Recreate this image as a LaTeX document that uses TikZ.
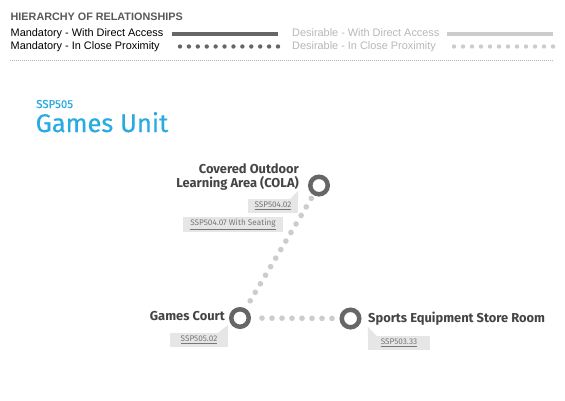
\documentclass[tikz,border=0pt]{standalone}
\usepackage{fontspec}
\usetikzlibrary{calc}
\setmainfont{Liberation Sans}
\newfontfamily\din{Fira Sans}
\newfontfamily\dinm[FakeBold=0.5]{Fira Sans}
\definecolor{cblue}{HTML}{29ABE2}
\definecolor{cdark}{HTML}{666666}
\definecolor{clight}{HTML}{CCCCCC}
\definecolor{ctext}{HTML}{444444}
\definecolor{cbox}{HTML}{E6E6E6}
\definecolor{clab}{HTML}{777777}
\tikzset{
  legtext/.style={anchor=base west,inner sep=0pt,font=\fontsize{10.9}{12}\selectfont},
  room/.style={circle,draw=cdark,line width=4.5pt,minimum size=17.5pt,inner sep=0pt},
  roomname/.style={inner sep=0pt,text=ctext,font=\din\bfseries\fontsize{12.9}{14.5}\selectfont},
  codebox/.style={fill=cbox,inner sep=0pt,text=clab,font=\din\fontsize{8.2}{9}\selectfont},
}
\begin{document}
\begin{tikzpicture}[x=1pt,y=-1pt]
\useasboundingbox[fill=white] (0,0) rectangle (565,400);
% legend
\node[legtext,text=black!65,font=\bfseries\fontsize{10.8}{12}\selectfont] (hd) at (10.5,20.7) {HIERARCHY OF RELATIONSHIPS};
\node[legtext] (m1) at (10.5,36.7) {Mandatory - With Direct Access};
\node[legtext] (m2) at (10.5,49) {Mandatory - In Close Proximity};
\node[legtext,text=black!28] (d1) at (292,36.7) {Desirable - With Direct Access};
\node[legtext,text=black!28] (d2) at (292,49) {Desirable - In Close Proximity};
\coordinate (l1a) at (172,34); \coordinate (l1b) at (278,34);
\coordinate (l2a) at (180,46.5); \coordinate (l2b) at (278,46.5);
\coordinate (l3a) at (447,34); \coordinate (l3b) at (553,34);
\coordinate (l4a) at (454,46.5); \coordinate (l4b) at (553,46.5);
\draw[cdark,line width=3.4pt] (l1a) -- (l1b);
\draw[clight,line width=3.4pt] (l3a) -- (l3b);
\foreach \i in {0,...,11} {
  \fill[cdark] ($(l2a)!\i/11!(l2b)$) circle (2.2pt);
  \fill[clight] ($(l4a)!\i/11!(l4b)$) circle (2.2pt);
}
\coordinate (ra) at (10,60); \coordinate (rb) at (553,60);
\draw[black!30,line width=0.6pt,dash pattern=on 0.6pt off 1.4pt] (ra) -- (rb);
% title
\node[anchor=base west,inner sep=0pt,text=cblue,font=\dinm\fontsize{11.5}{12}\selectfont] (code) at (36,108) {SSP505};
\node[anchor=base west,inner sep=0pt,text=cblue,font=\dinm\fontsize{25.5}{28}\selectfont] (title) at (35.5,132) {Games Unit};
% rooms
\node[room] (cola) at (319,185.5) {};
\node[room] (court) at (240,318) {};
\node[room] (sport) at (350.5,318.5) {};
\coordinate (p1) at ($(cola)!15pt!(court)$);
\coordinate (p2) at ($(court)!20pt!(cola)$);
\coordinate (q1) at ($(court)!22pt!(sport)$);
\coordinate (q2) at ($(sport)!18.5pt!(court)$);
\foreach \i in {0,...,12} \fill[clight] ($(p1)!\i/12!(p2)$) circle (2.8pt);
\foreach \i in {0,...,7} \fill[clight] ($(q1)!\i/7!(q2)$) circle (2.8pt);
\node[roomname,anchor=base east] (colan) at (299,173) {Covered Outdoor};
\node[roomname,anchor=base east] (colan2) at (299,187.5) {Learning Area (COLA)};
\node[roomname,anchor=base east] (courtn) at (225,320.5) {Games Court};
\node[roomname,anchor=base west] (sportn) at (368,322.5) {Sports Equipment Store Room};
% code labels
\node[codebox,minimum width=100pt,minimum height=15pt] (b2) at (233,224.5) {\underline{SSP504.07 With Seating}};
\node[codebox,minimum width=50pt,minimum height=14pt] (b1) at (273,206) {\underline{SSP504.02}};
\fill[cbox] (b1.north east) -- ++(-8,0) -- ++(8,-8) -- cycle;
\node[codebox,minimum width=58pt,minimum height=14pt] (b3) at (199,340) {\underline{SSP505.02}};
\fill[cbox] (b3.north east) -- ++(-10,0) -- ++(10,-8) -- cycle;
\node[codebox,minimum width=62pt,minimum height=14pt] (b4) at (399,343) {\underline{SSP503.33}};
\fill[cbox] (b4.north west) -- ++(9,0) -- ++(-9,-9) -- cycle;
\end{tikzpicture}
\end{document}
